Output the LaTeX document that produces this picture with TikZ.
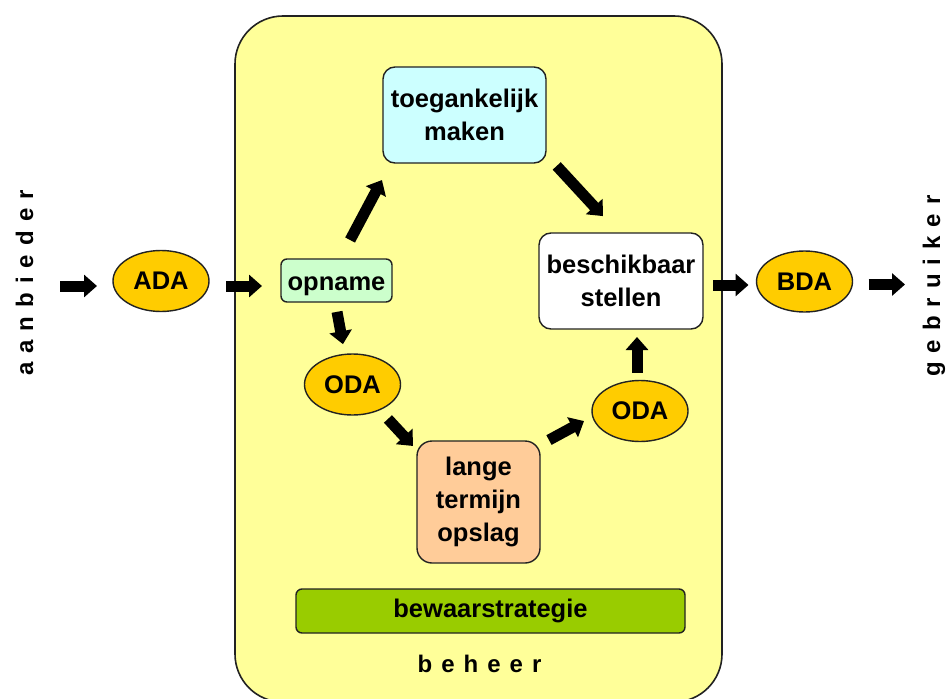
\documentclass[tikz,border=0pt]{standalone}
\usepackage{fontspec}
\setmainfont{Liberation Sans}
\usetikzlibrary{shapes.geometric,arrows.meta,calc}

\definecolor{panelyellow}{HTML}{FFFF99}
\definecolor{ovalyellow}{HTML}{FFCC00}
\definecolor{accesscyan}{HTML}{CCFFFF}
\definecolor{intakegreen}{HTML}{CCFFCC}
\definecolor{storepeach}{HTML}{FFCC99}
\definecolor{policygreen}{HTML}{99CC00}
\definecolor{edgegray}{HTML}{222222}

% extra space between the letters of the spaced-out labels
\newcommand\lgap{\hspace{9pt}}

\begin{document}
\begin{tikzpicture}[x=1pt,y=-1pt,
  every node/.style={inner sep=0pt, outer sep=0pt},
  lbl/.style={font=\fontsize{25.5}{33}\selectfont\bfseries, align=center},
  procbox/.style={lbl, draw=edgegray, line width=1.4pt, rounded corners=12pt},
  dataoval/.style={lbl, ellipse, draw=edgegray, line width=1.4pt, fill=ovalyellow,
    minimum width=96pt, minimum height=61pt},
  flow/.style={line width=11pt, -{Triangle[length=13pt 0 0, width=22pt 0 0]}},
  sidelabel/.style={font=\fontsize{24}{28}\selectfont\bfseries},
]
\useasboundingbox (0,0) rectangle (949,698);
\clip (0,0) rectangle (949,698);

% management area
\node[draw=edgegray, line width=1.6pt, fill=panelyellow, rounded corners=48pt,
  minimum width=487pt, minimum height=686pt] (beheerbox) at (478.5,359) {};
\node[sidelabel, anchor=base] (beheer) at (479.5,672) {b\lgap e\lgap h\lgap e\lgap e\lgap r};

% side labels
\node[sidelabel, rotate=90, anchor=base] (aanb) at (33,283)
  {a\lgap a\lgap n\lgap b\lgap i\lgap e\lgap d\lgap e\lgap r};
\node[sidelabel, rotate=90, anchor=base] (gebr) at (940,286)
  {g\lgap e\lgap b\lgap r\lgap u\lgap i\lgap k\lgap e\lgap r};

% information packages
\node[dataoval] (ADA) at (161,281) {ADA};
\node[dataoval] (BDA) at (804.5,281.5) {BDA};
\node[dataoval] (ODA1) at (352.5,384.5) {ODA};
\node[dataoval] (ODA2) at (640,411) {ODA};

% functions
\node[procbox, fill=intakegreen, rounded corners=6pt, minimum width=111pt, minimum height=43pt,
  text height=19pt, text depth=0pt]
  (opname) at (336.5,280.5) {opname};
\node[procbox, fill=accesscyan, minimum width=163pt, minimum height=96pt]
  (toeg) at (464.5,115) {toegankelijk\\maken};
\node[procbox, fill=white, minimum width=164pt, minimum height=96pt]
  (besch) at (621,281) {beschikbaar\\stellen};
\node[procbox, fill=storepeach, rounded corners=15pt, minimum width=123pt, minimum height=122pt]
  (lange) at (478.5,502) {lange\\termijn\\opslag};
\node[procbox, fill=policygreen, rounded corners=6pt, minimum width=389pt, minimum height=44pt,
  text height=12pt, text depth=0pt]
  (bewaar) at (490.5,611) {bewaarstrategie};

% flows
\draw[flow, shorten <=27pt, shorten >=16pt] ([yshift=-3pt]aanb.base) -- ([yshift=-5pt]ADA.west);
\draw[flow, shorten <=17pt, shorten >=19pt] ([yshift=-5pt]ADA.east) -- ([yshift=-5pt]ADA.east -| opname.west);
\draw[flow, shorten <=21.5pt, shorten >=19.3pt] ([xshift=3.5pt]opname.north) -- ([xshift=8pt]toeg.south west);
\draw[flow, shorten <=4pt, shorten >=23pt] ([xshift=8pt]toeg.south east) -- ([xshift=-2.4pt]besch.north);
\draw[flow, shorten <=10pt, shorten >=8pt] ([yshift=-4pt]besch.east) -- ([yshift=-4pt]besch.east -| BDA.west);
\draw[flow, shorten <=16pt, shorten >=35pt] ([yshift=-3pt]BDA.east) -- ([yshift=-3pt]BDA.east -| gebr.base);
\draw[flow, shorten <=10pt, shorten >=10pt] ([xshift=-1.3pt]opname.south) -- ([xshift=-7.7pt]ODA1.north);
\draw[flow, shorten <=47pt, shorten >=5.9pt] ([xshift=3.5pt]ODA1.center) -- ([yshift=-9.3pt]lange.north west);
\draw[flow, shorten <=10.2pt, shorten >=9.1pt] ([yshift=-3.9pt]lange.north east) -- ([yshift=-5.7pt]ODA2.west);
\draw[flow, shorten <=8pt, shorten >=8pt] ([xshift=-3pt]ODA2.north) -- ([xshift=-3pt]ODA2.north |- besch.south);
\end{tikzpicture}
\end{document}
